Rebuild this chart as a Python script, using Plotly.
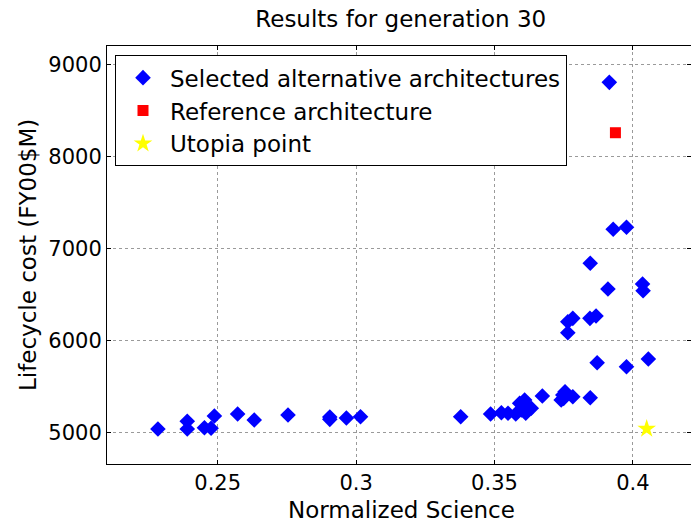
import plotly.graph_objects as go

# Selected alternative architectures
sel_x = [0.2284, 0.239, 0.239, 0.2452, 0.2476, 0.2488, 0.2572, 0.2632, 0.2754,
         0.2905, 0.2905, 0.2965, 0.3016, 0.3378, 0.3486, 0.3525, 0.3549, 0.3577,
         0.3591, 0.3609, 0.3597, 0.3617, 0.3633, 0.3613, 0.3673, 0.3750, 0.3755,
         0.3741, 0.3747, 0.3783, 0.3846, 0.3765, 0.3783, 0.3765, 0.3845, 0.3867,
         0.3871, 0.3977, 0.4056, 0.3929, 0.3977, 0.3846, 0.3910, 0.4035, 0.4037,
         0.3915]
sel_y = [5040, 5125, 5040, 5054, 5048, 5181, 5203, 5138, 5192,
         5145, 5170, 5160, 5174, 5174, 5203, 5217, 5211, 5203,
         5319, 5355, 5247, 5282, 5265, 5211, 5399, 5373, 5445,
         5355, 5409, 5391, 5380, 6205, 6242, 6086, 6242, 6267,
         5760, 5717, 5800, 7209, 7231, 6840, 6561, 6615, 6542,
         8805]

ref_x = [0.3937]
ref_y = [8258]

utopia_x = [0.4050]
utopia_y = [5043]

FONT = "DejaVu Sans, Liberation Sans, sans-serif"
TXT = 23
TICK = 21

fig = go.Figure()
fig.add_trace(go.Scatter(x=sel_x, y=sel_y, mode="markers",
                         name="Selected alternative architectures",
                         marker=dict(symbol="diamond", color="#0000ff", size=12,
                                     line=dict(width=0))))
fig.add_trace(go.Scatter(x=ref_x, y=ref_y, mode="markers",
                         name="Reference architecture",
                         marker=dict(symbol="square", color="#ff0000", size=11,
                                     line=dict(width=0))))
fig.add_trace(go.Scatter(x=utopia_x, y=utopia_y, mode="markers",
                         name="Utopia point",
                         marker=dict(symbol="star", color="#ffff00", size=14,
                                     line=dict(width=0))))

axis_common = dict(
    showline=True, linecolor="black", linewidth=1, mirror="ticks",
    ticks="inside", ticklen=4, tickcolor="black",
    showgrid=True, gridcolor="#9a9a9a", griddash="dot", gridwidth=1,
    zeroline=False, automargin=False,
    tickfont=dict(family=FONT, size=TICK, color="black"),
)

fig.update_layout(
    width=691, height=522,
    margin=dict(l=107, r=0, t=46, b=58, autoexpand=False),
    paper_bgcolor="white", plot_bgcolor="white",
    font=dict(family=FONT, size=TXT, color="black"),
    title=dict(text="Results for generation 30", x=0.580, xanchor="center",
               xref="container", yref="container",
               y=0.963, yanchor="middle", font=dict(family=FONT, size=TXT, color="black")),
    showlegend=True,
    legend=dict(x=0.0137, y=0.978, xanchor="left", yanchor="top",
                bgcolor="white", bordercolor="black", borderwidth=1,
                font=dict(family=FONT, size=TXT, color="black"),
                itemwidth=44, tracegroupgap=0),
    annotations=[
        dict(text="Normalized Science", xref="paper", yref="paper",
             x=0.504, y=-0.11, xanchor="center", yanchor="middle",
             showarrow=False, font=dict(family=FONT, size=TXT, color="black")),
        dict(text="Lifecycle cost (FY00$M)", xref="paper", yref="paper",
             x=-0.1353, y=0.50, xanchor="center", yanchor="middle", textangle=-90,
             showarrow=False, font=dict(family=FONT, size=TXT, color="black")),
    ],
)
fig.update_xaxes(range=[0.21, 0.42101], dtick=0.05, tick0=0.25, **axis_common)
fig.update_yaxes(range=[4660, 9200], dtick=1000, tick0=5000, tickformat="d",
                 **axis_common)

fig.write_html("out.html", config={"displayModeBar": False},
               post_script="document.body.style.margin='0';document.body.style.overflow='hidden';")
